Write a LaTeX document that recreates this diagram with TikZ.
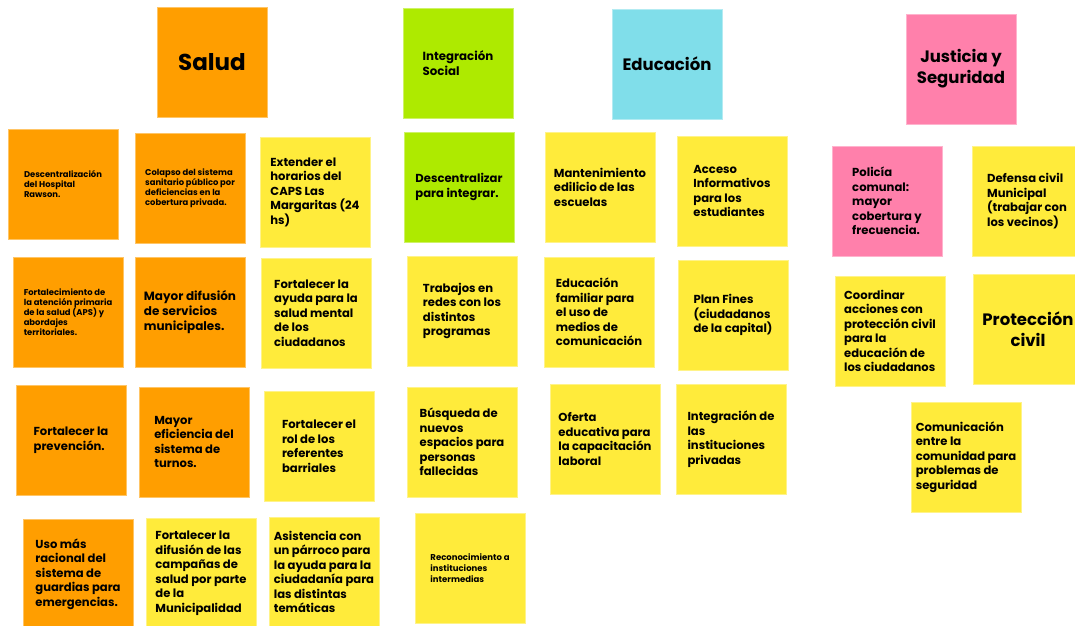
\documentclass[tikz,border=0pt]{standalone}
\usepackage{fontspec}
\setmainfont{Poppins}
\definecolor{cOrange}{HTML}{FF9E00}
\definecolor{cYellow}{HTML}{FFEB3B}
\definecolor{cGreen}{HTML}{AEEA00}
\definecolor{cCyan}{HTML}{80DEEA}
\definecolor{cPink}{HTML}{FF80AB}
\newcommand\nsmall{\fontsize{8.4}{10}\selectfont}
\newcommand\nsmallb{\fontsize{8.5}{11}\selectfont}
\newcommand\nnorm{\fontsize{11.6}{14.5}\selectfont}
\newcommand\nmid{\fontsize{12}{15}\selectfont}
\newcommand\nintg{\fontsize{11.8}{14.5}\selectfont}
\newcommand\nhead{\fontsize{16.5}{21}\selectfont}
\newcommand\nsalud{\fontsize{23}{28}\selectfont}
\tikzset{
  note/.style={fill=#1, draw=#1!60!white, line width=0.5pt,
    minimum width=110pt, minimum height=110pt, inner sep=0pt,
    align=left, font=\bfseries\nnorm, text=black},
}
\begin{document}
\begin{tikzpicture}[x=1pt,y=-1pt]
\useasboundingbox (0,0) rectangle (1075,625);
\clip (0,0) rectangle (1075,625);
\fill[white] (0,0) rectangle (1075,625);
% headers
\node[note=cOrange, font=\bfseries\nsalud] (salud) at (212,62) {Salud};
\node[note=cGreen, font=\bfseries\nintg] (integ) at (458,63) {Integración\\Social};
\node[note=cCyan, font=\bfseries\nhead, align=center] (educ) at (667,64) {Educación};
\node[note=cPink, font=\bfseries\nhead, align=center] (just) at (961,69) {Justicia y\\Seguridad};
% row 1
\node[note=cOrange, font=\bfseries\nsmall] (s1) at (63,184) {Descentralización\\del Hospital\\Rawson.};
\node[note=cOrange, font=\bfseries\nsmall] (s2) at (190,188) {Colapso del sistema\\sanitario público por\\deficiencias en la\\cobertura privada.};
\node[note=cYellow] (s3) at (315,192) {Extender el\\horarios del\\CAPS Las\\Margaritas (24\\hs)};
\node[note=cGreen] (i1) at (459,187) {Descentralizar\\para integrar.};
\node[note=cYellow] (e1) at (600,187) {Mantenimiento\\edilicio de las\\escuelas};
\node[note=cYellow] (e2) at (732,191) {Acceso\\Informativos\\para los\\estudiantes};
\node[note=cPink] (j1) at (887,201) {Policía\\comunal:\\mayor\\cobertura y\\frecuencia.};
\node[note=cYellow] (j2) at (1027,201) {Defensa civil\\Municipal\\(trabajar con\\los vecinos)};
% row 2
\node[note=cOrange, font=\bfseries\nsmall] (s4) at (68,312) {Fortalecimiento de\\la atención primaria\\de la salud (APS) y\\abordajes\\territoriales.};
\node[note=cOrange, font=\bfseries\nmid] (s5) at (190,312) {Mayor difusión\\de servicios\\municipales.};
\node[note=cYellow] (s6) at (316,313) {Fortalecer la\\ayuda para la\\salud mental\\de los\\ciudadanos};
\node[note=cYellow] (i2) at (462,311) {Trabajos en\\redes con los\\distintos\\programas};
\node[note=cYellow] (e3) at (599,312) {Educación\\familiar para\\el uso de\\medios de\\comunicación};
\node[note=cYellow] (e4) at (733,315) {Plan Fines\\(ciudadanos\\de la capital)};
\node[note=cYellow] (j3) at (890,331) {Coordinar\\acciones con\\protección civil\\para la\\educación de\\los ciudadanos};
\node[note=cYellow, font=\bfseries\nhead, align=center] (j4) at (1028,329) {Protección\\civil};
% row 3
\node[note=cOrange] (s7) at (71,440) {Fortalecer la\\prevención.};
\node[note=cOrange] (s8) at (194,442) {Mayor\\eficiencia del\\sistema de\\turnos.};
\node[note=cYellow] (s9) at (319,446) {Fortalecer el\\rol de los\\referentes\\barriales};
\node[note=cYellow] (i3) at (462,442) {Búsqueda de\\nuevos\\espacios para\\personas\\fallecidas};
\node[note=cYellow] (e5) at (605,439) {Oferta\\educativa para\\la capacitación\\laboral};
\node[note=cYellow] (e6) at (731,439) {Integración de\\las\\instituciones\\privadas};
\node[note=cYellow] (j5) at (966,457) {Comunicación\\entre la\\comunidad para\\problemas de\\seguridad};
% row 4
\node[note=cOrange] (s10) at (78,574) {Uso más\\racional del\\sistema de\\guardias para\\emergencias.};
\node[note=cYellow] (s11) at (201,573) {Fortalecer la\\difusión de las\\campañas de\\salud por parte\\de la\\Municipalidad};
\node[note=cYellow] (s12) at (324,572) {Asistencia con\\un párroco para\\la ayuda para la\\ciudadanía para\\las distintas\\temáticas};
\node[note=cYellow, font=\bfseries\nsmallb] (i4) at (470,568) {Reconocimiento a\\instituciones\\intermedias};
\end{tikzpicture}
\end{document}
